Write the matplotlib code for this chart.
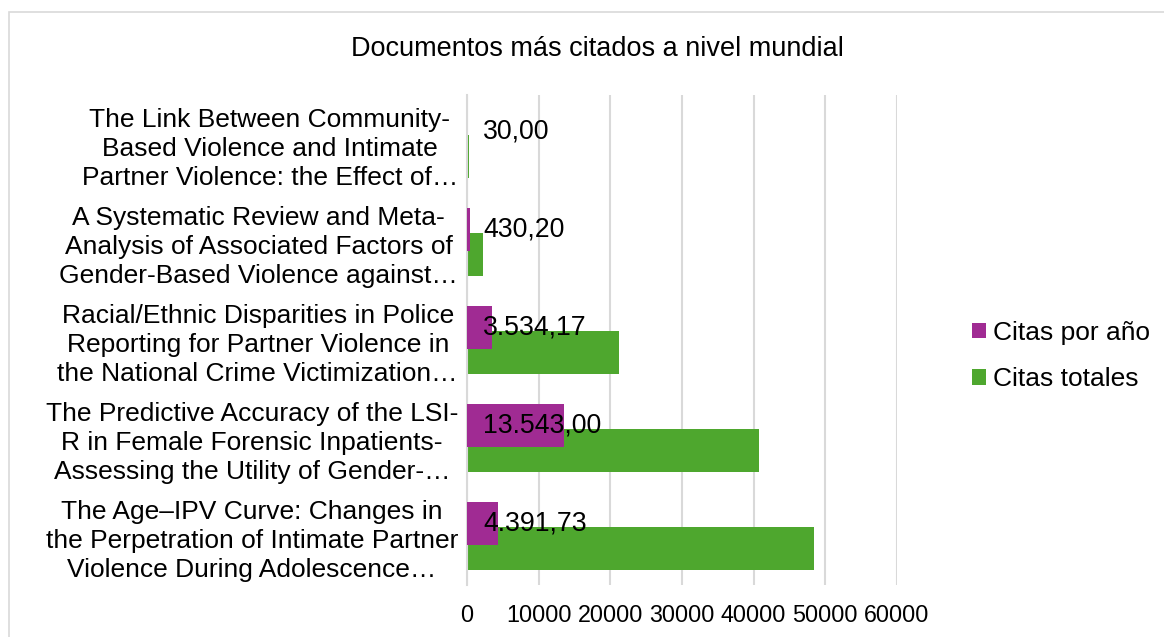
import matplotlib
matplotlib.use('Agg')
import matplotlib.pyplot as plt
from matplotlib.patches import Rectangle

# bottom -> top, as drawn
documentos = [
    'The Age\u2013IPV Curve: Changes in\nthe Perpetration of Intimate Partner\nViolence During Adolescence\u2026',
    'The Predictive Accuracy of the LSI-\nR in Female Forensic Inpatients-\nAssessing the Utility of Gender-\u2026',
    'Racial/Ethnic Disparities in Police\nReporting for Partner Violence in\nthe National Crime Victimization\u2026',
    'A Systematic Review and Meta-\nAnalysis of Associated Factors of\nGender-Based Violence against\u2026',
    'The Link Between Community-\nBased Violence and Intimate\nPartner Violence: the Effect of\u2026',
]
citas_anio = [4391.73, 13543.00, 3534.17, 430.20, 30.00]
citas_totales = [48370, 40700, 21230, 2190, 300]
xticks = [0, 10000, 20000, 30000, 40000, 50000, 60000]

C_ANIO = '#A02B93'
C_TOT = '#4EA72E'
GRID = '#D9D9D9'
FONT = 'Liberation Sans'
plt.rcParams['font.family'] = [FONT, 'DejaVu Sans']


def es_fmt(v):
    s = f'{v:,.2f}'
    return s.replace(',', 'X').replace('.', ',').replace('X', '.')


fig = plt.figure(figsize=(11.64, 6.37), dpi=100)
ax = fig.add_axes([467 / 1164, 52 / 637, 430 / 1164, 490 / 637])

# chart border
fig.patches.append(Rectangle((9 / 1164, -0.05), 1.2, (637 - 12) / 637 + 0.05,
                             transform=fig.transFigure, fill=False,
                             edgecolor=GRID, linewidth=1.2))

y = list(range(len(documentos)))
h = 0.43
off = 0.128
ax.barh([v + off for v in y], citas_anio, height=h, color=C_ANIO, label='Citas por año', zorder=3)
ax.barh([v - off for v in y], citas_totales, height=h, color=C_TOT, label='Citas totales', zorder=2)

for yi, v in zip(y, citas_anio):
    ax.annotate(es_fmt(v), xy=(0, yi + off), xytext=(16, 0), textcoords='offset pixels',
                ha='left', va='center', fontsize=19.2, color='black', zorder=5)

ax.set_xlim(0, 60000)
ax.set_ylim(-0.5, 4.5)
ax.set_xticks(xticks)
ax.set_xticklabels([str(t) for t in xticks], fontsize=16.8)
ax.set_yticks(y)
ax.set_yticklabels(documentos, fontsize=19, multialignment='center', linespacing=1.26)
ax.tick_params(axis='x', length=0, pad=14)
ax.tick_params(axis='y', length=0, pad=6.5)
ax.grid(axis='x', color=GRID, linewidth=1.5, zorder=0)
ax.set_axisbelow(True)
for s in ['top', 'right', 'bottom']:
    ax.spines[s].set_visible(False)
ax.spines['left'].set_color(GRID)
ax.spines['left'].set_linewidth(1.5)

fig.text(597 / 1164, 1 - 49 / 637, 'Documentos más citados a nivel mundial',
         ha='center', va='center', fontsize=19.5)

fig.legend(loc='center left', bbox_to_anchor=(972 / 1164, 1 - 356 / 637), frameon=False,
           fontsize=19, handlelength=0.53, handleheight=0.53, handletextpad=0.27,
           labelspacing=0.85, borderpad=0, borderaxespad=0)

plt.savefig('out.png', dpi=100)
